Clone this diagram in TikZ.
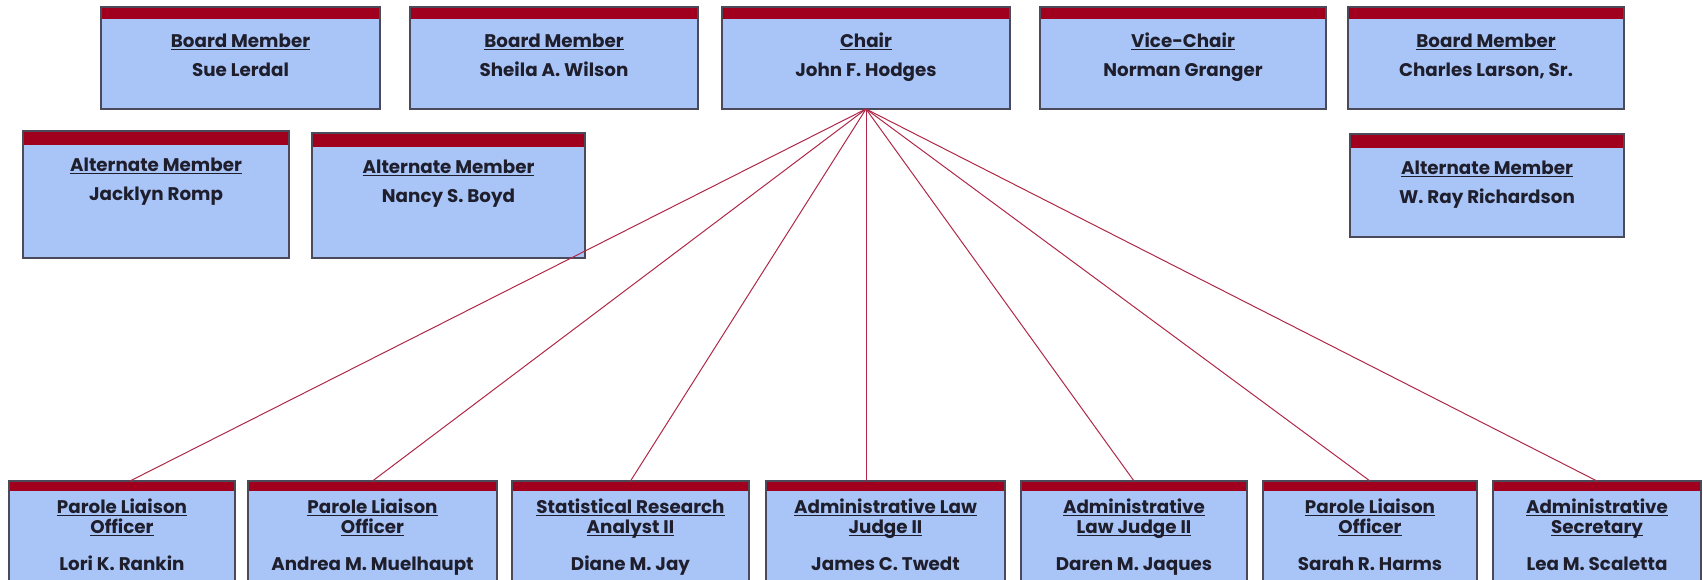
\documentclass[tikz,border=0pt]{standalone}
\usepackage{fontspec}
\setmainfont{Poppins}
\definecolor{boxblue}{HTML}{A9C5F8}
\definecolor{bandred}{HTML}{A0001E}
\definecolor{edgegray}{HTML}{4A4A5A}
\definecolor{linkred}{HTML}{B02848}
\definecolor{txt}{HTML}{1E1E2C}
\newcommand\uln[1]{\setbox0\hbox{#1}\makebox[0pt][l]{\rule[-3pt]{\wd0}{1pt}}\box0}
\tikzset{
  obox/.style={draw=edgegray, line width=1.2pt, fill=boxblue, inner sep=0pt, outer sep=0pt,
    path picture={\fill[bandred] (path picture bounding box.north west) rectangle ([yshift=-#1]path picture bounding box.north east);}},
  obox/.default=12pt,
  ttl/.style={font=\fontsize{18.3}{20}\selectfont\bfseries, text=txt, align=center, inner sep=0pt, anchor=base},
  link/.style={draw=linkred, line width=1pt},
}
\newcommand\orgbox[6][12pt]{\node[obox=#1, minimum width={(#4-#2)*1pt}, minimum height={(#6-#3)*1pt}] (#5) at ({(#2+#4)/2},{(#3+#6)/2}) {};}
\begin{document}
\begin{tikzpicture}[x=1pt,y=-1pt]
\clip (0,0) rectangle (1703,579);
\fill[white] (0,0) rectangle (1703,579);
% top row
\orgbox{101}{7}{380}{sue}{109}
\orgbox{410}{7}{698}{sheila}{109}
\orgbox{722}{7}{1010}{chair}{109}
\orgbox{1040}{7}{1326}{vice}{109}
\orgbox{1348}{7}{1624}{charles}{109}
% alternates
\orgbox[14pt]{23}{131}{289}{jacklyn}{258}
\orgbox[14pt]{312}{133}{585}{nancy}{258}
\orgbox[14pt]{1350}{134}{1624}{wray}{237}
% bottom row
\orgbox[10pt]{9}{481}{235}{lori}{640}
\orgbox[10pt]{248}{481}{497}{andrea}{640}
\orgbox[10pt]{512}{481}{749}{diane}{640}
\orgbox[10pt]{766}{481}{1005}{james}{640}
\orgbox[10pt]{1021}{481}{1247}{daren}{640}
\orgbox[10pt]{1263}{481}{1477}{sarah}{640}
\orgbox[10pt]{1493}{481}{1701}{lea}{640}
% connectors
\draw[link] (chair.south) -- ([xshift=8pt]lori.north);
\draw[link] (chair.south) -- (andrea.north);
\draw[link] (chair.south) -- (diane.north);
\draw[link] (chair.south) -- (chair.south |- james.north);
\draw[link] (chair.south) -- (daren.north);
\draw[link] (chair.south) -- (sarah.north);
\draw[link] (chair.south) -- (lea.north);
% texts top row
\foreach \b/\t/\n in {sue/Board Member/Sue Lerdal, sheila/Board Member/Sheila A. Wilson, chair/Chair/John F. Hodges, vice/Vice-Chair/Norman Granger, charles/Board Member/{Charles Larson, Sr.}, jacklyn/Alternate Member/Jacklyn Romp, nancy/Alternate Member/Nancy S. Boyd, wray/Alternate Member/W. Ray Richardson}{
  \node[ttl] (\b-t) at ([yshift=-40pt]\b.north) {\uln{\t}};
  \node[ttl] (\b-n) at ([yshift=-69pt]\b.north) {\n};
}
% texts bottom row
\foreach \b/\ta/\tb/\n in {lori/Parole Liaison/Officer/Lori K. Rankin, andrea/Parole Liaison/Officer/Andrea M. Muelhaupt, diane/Statistical Research/Analyst II/Diane M. Jay, james/Administrative Law/Judge II/James C. Twedt, daren/Administrative/Law Judge II/Daren M. Jaques, sarah/Parole Liaison/Officer/Sarah R. Harms, lea/Administrative/Secretary/Lea M. Scaletta}{
  \node[ttl] (\b-t1) at ([yshift=-32pt]\b.north) {\uln{\ta}};
  \node[ttl] (\b-t2) at ([yshift=-52pt]\b.north) {\uln{\tb}};
  \node[ttl] (\b-n) at ([yshift=-89pt]\b.north) {\n};
}
\end{tikzpicture}
\end{document}
